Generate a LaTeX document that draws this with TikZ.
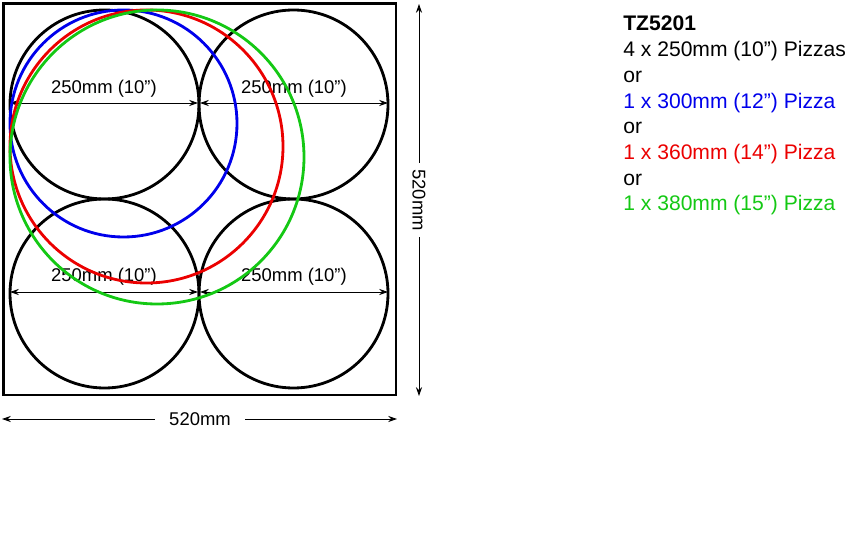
\documentclass[tikz,border=0pt]{standalone}
\usepackage{fontspec}
\setmainfont{Liberation Sans}
\usetikzlibrary{arrows.meta}
\definecolor{pzblue}{RGB}{0,0,235}
\definecolor{pzred}{RGB}{235,0,0}
\definecolor{pzgreen}{RGB}{20,200,20}
\tikzset{
  pizza/.style={line width=1.6pt},
  dim/.style={line width=0.55pt,{Stealth[length=5pt,width=3.5pt]}-{Stealth[length=5pt,width=3.5pt]}},
  halfdim/.style={line width=0.55pt,-{Stealth[length=5pt,width=3.5pt]}},
  dimlabel/.style={font=\fontsize{10.5}{12}\selectfont,inner sep=0pt},
  info/.style={anchor=base west,inner sep=0pt,font=\fontsize{12}{14}\selectfont},
}
\begin{document}
\begin{tikzpicture}[x=0.02cm,y=-0.02cm]
        \useasboundingbox (0,0) rectangle (850,550);
        % tray
        \draw[line width=1.7pt](3.5,3.5) rectangle (396,395);
        % four 250mm pizzas
        \coordinate (p1) at (104.5,104.5);
        \coordinate (p2) at (293.5,104.5);
        \coordinate (p3) at (104.5,293.5);
        \coordinate (p4) at (293.5,293.5);
        \draw[pizza](p1) circle[radius=94.5];
        \draw[pizza](p2) circle[radius=94.5];
        \draw[pizza](p3) circle[radius=94.5];
        \draw[pizza](p4) circle[radius=94.5];
        % diameters
        \coordinate (a1) at (10,103);  \coordinate (b1) at (198,103);
        \coordinate (a2) at (200,103); \coordinate (b2) at (388,103);
        \coordinate (a3) at (10,292);  \coordinate (b3) at (198,292);
        \coordinate (a4) at (200,292); \coordinate (b4) at (388,292);
        \draw[dim](a1)--(b1);
        \draw[dim](a2)--(b2);
        \draw[dim](a3)--(b3);
        \draw[dim](a4)--(b4);
        \node[dimlabel] (l1) at (104,88.5) {250mm (10”)};
        \node[dimlabel] (l2) at (294,88.5) {250mm (10”)};
        \node[dimlabel] (l3) at (104,277) {250mm (10”)};
        \node[dimlabel] (l4) at (294,277) {250mm (10”)};
        % bigger pizzas
        \draw[pizza,pzblue](123.5,123.5) circle[radius=113.5];
        \draw[pizza,pzred](146.5,146.5) circle[radius=136.5];
        \draw[pizza,pzgreen](157,157) circle[radius=147];
        % tray size
        \node[dimlabel,inner xsep=0.28cm] (w) at (200,419) {520mm};
        \coordinate (wl) at (2,419);
        \coordinate (wr) at (397,419);
        \draw[halfdim](w)--(wl);
        \draw[halfdim](w)--(wr);
        \node[dimlabel,rotate=-90,inner xsep=0.12cm] (h) at (419,200) {520mm};
        \coordinate (ht) at (419,4);
        \coordinate (hb) at (419,396);
        \draw[halfdim](h)--(ht);
        \draw[halfdim](h)--(hb);
        % legend
        \node[info] (t1) at (623,31) {\textbf{TZ5201}};
        \node[info] (t2) at (623,56.7) {4 x 250mm (10”) Pizzas};
        \node[info] (t3) at (623,82.4) {or};
        \node[info,pzblue] (t4) at (623,108.1) {1 x 300mm (12”) Pizza};
        \node[info] (t5) at (623,133.8) {or};
        \node[info,pzred] (t6) at (623,159.5) {1 x 360mm (14”) Pizza};
        \node[info] (t7) at (623,185.2) {or};
        \node[info,pzgreen] (t8) at (623,211) {1 x 380mm (15”) Pizza};
\end{tikzpicture}
\end{document}
